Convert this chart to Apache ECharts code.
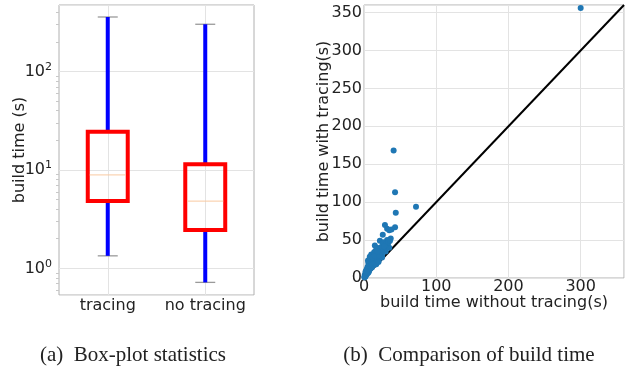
<!DOCTYPE html>
<html>
<head>
<meta charset="utf-8">
<script src="https://cdn.jsdelivr.net/npm/echarts@6/dist/echarts.min.js"></script>
<style>
  html, body { margin: 0; padding: 0; background: #fff; }
  #chart { width: 629px; height: 372px; }
</style>
</head>
<body>
<div id="chart"></div>
<script>
// box-plot data (log scale, seconds)
var categories = ['tracing', 'no tracing'];
var whiskerLow = [1.34, 0.72];
var q1 = [4.84, 2.45];
var median = [8.9, 4.82];
var q3 = [24.5, 11.4];
var whiskerHigh = [358, 302];

// scatter: [without tracing, with tracing]
var buildTimes = [
  [300, 356], [41, 168], [43, 113], [44, 86], [72, 94], [43, 67], [29, 70], [32, 65],
  [35, 63], [38, 64], [26, 57], [37, 52], [32, 50], [22, 49], [26, 46], [33, 45],
  [15, 43], [28, 39], [22, 39], [30, 35], [35, 40], [20, 33], [17, 30], [12, 30],
  [10, 31], [8, 28], [14, 26], [18, 25], [25, 30], [11, 24], [9, 22], [6, 20],
  [13, 20], [16, 22], [20, 22], [7, 17], [5, 15], [10, 15], [12, 18], [4, 12],
  [8, 12], [3, 10], [6, 10], [2, 8], [5, 8], [3, 6], [1, 4], [2, 3], [1, 2],
  [4, 5], [7, 9], [9, 13], [11, 14], [14, 17], [16, 19], [19, 27], [23, 28],
  [24, 36], [27, 47], [30, 44], [21, 26], [25, 27], [13, 23], [17, 18], [20, 21],
  [6, 7], [3, 4], [1, 1], [2, 2], [0.5, 1], [4, 7], [8, 18], [10, 20], [5, 12],
  [3, 9], [5.5, 23], [9, 25], [14, 34], [16, 36], [18, 40], [12, 27], [15, 29],
  [21, 30], [24, 41], [28, 42], [34, 47], [36, 49], [19, 35]
];
var diagonal = [[0, 0], [360, 360]];

var axisFont = 'DejaVu Sans';
var textColor = '#222';

function logLabel(v) {
  var e = Math.log10(v);
  if (Math.abs(e - Math.round(e)) > 1e-6) return '';
  return '{b|10}{s|' + Math.round(e) + '}';
}

var chart = echarts.init(document.getElementById('chart'));
var option = {
  animation: false,
  backgroundColor: '#fff',
  grid: [
    { left: 59, top: 5, right: 375, bottom: 77, show: true, borderColor: '#b0b0b0', borderWidth: 1 },
    { left: 364, top: 5, right: 5, bottom: 94, show: true, borderColor: '#b0b0b0', borderWidth: 1 }
  ],
  xAxis: [
    {
      gridIndex: 0,
      type: 'category',
      data: categories,
      boundaryGap: true,
      axisLine: { show: false },
      axisTick: { show: false, alignWithLabel: true },
      splitLine: { show: true, interval: 0, alignWithLabel: true, lineStyle: { color: '#e3e3e3' } },
      axisLabel: { interval: 0, margin: 3, fontFamily: axisFont, fontSize: 16, color: textColor }
    },
    {
      gridIndex: 1,
      type: 'value',
      min: 0,
      max: 360,
      interval: 100,
      name: 'build time without tracing(s)',
      nameLocation: 'middle',
      nameGap: 17,
      nameMoveOverlap: false,
      nameTextStyle: { fontFamily: axisFont, fontSize: 16, color: textColor },
      axisLine: { show: false },
      axisTick: { show: false },
      splitLine: { lineStyle: { color: '#e3e3e3' } },
      axisLabel: {
        margin: 1, fontFamily: axisFont, fontSize: 16, color: textColor,
        formatter: function (v) { return v % 100 === 0 ? String(v) : ''; }
      }
    }
  ],
  yAxis: [
    {
      gridIndex: 0,
      type: 'log',
      logBase: 10,
      min: 0.536,
      max: 474,
      name: 'build time (s)',
      nameLocation: 'middle',
      nameGap: 31,
      nameMoveOverlap: false,
      nameTextStyle: { fontFamily: axisFont, fontSize: 16, color: textColor },
      axisLine: { show: false },
      axisTick: { show: false },
      minorTick: { show: true, splitNumber: 9, length: 3, lineStyle: { color: '#c8c8c8' } },
      splitLine: { lineStyle: { color: '#e3e3e3' } },
      axisLabel: {
        margin: 7,
        formatter: logLabel,
        rich: {
          b: { fontFamily: axisFont, fontSize: 16, color: textColor },
          s: { fontFamily: axisFont, fontSize: 11, color: textColor, verticalAlign: 'top', padding: [0, 0, 9, 0] }
        }
      }
    },
    {
      gridIndex: 1,
      type: 'value',
      min: 0,
      max: 360,
      interval: 50,
      name: 'build time with tracing(s)',
      nameLocation: 'middle',
      nameGap: 32,
      nameMoveOverlap: false,
      nameTextStyle: { fontFamily: axisFont, fontSize: 16, color: textColor },
      axisLine: { show: false },
      axisTick: { show: false },
      splitLine: { lineStyle: { color: '#e3e3e3' } },
      axisLabel: {
        margin: 2, fontFamily: axisFont, fontSize: 16, color: textColor,
        formatter: function (v) { return v % 50 === 0 ? String(v) : ''; }
      }
    }
  ],
  series: [
    {
      // box plot drawn on the log axis
      type: 'custom',
      xAxisIndex: 0,
      yAxisIndex: 0,
      data: categories.map(function (c, i) { return [i, whiskerLow[i], q1[i], median[i], q3[i], whiskerHigh[i]]; }),
      encode: { x: 0, y: [1, 2, 3, 4, 5] },
      renderItem: function (params, api) {
        var i = api.value(0);
        var bandW = api.size([1, 0])[0];
        var boxW = bandW * 0.41;
        var capW = boxW * 0.5;
        var pLow = api.coord([i, api.value(1)]);
        var pQ1 = api.coord([i, api.value(2)]);
        var pMed = api.coord([i, api.value(3)]);
        var pQ3 = api.coord([i, api.value(4)]);
        var pHigh = api.coord([i, api.value(5)]);
        var cx = pQ1[0];
        return {
          type: 'group',
          children: [
            { type: 'line', shape: { x1: cx - capW / 2, y1: pLow[1], x2: cx + capW / 2, y2: pLow[1] }, style: { stroke: '#9a9a9a', lineWidth: 1.3 } },
            { type: 'line', shape: { x1: cx - capW / 2, y1: pHigh[1], x2: cx + capW / 2, y2: pHigh[1] }, style: { stroke: '#9a9a9a', lineWidth: 1.3 } },
            { type: 'line', shape: { x1: cx, y1: pLow[1], x2: cx, y2: pQ1[1] }, style: { stroke: '#0000ff', lineWidth: 4 } },
            { type: 'line', shape: { x1: cx, y1: pQ3[1], x2: cx, y2: pHigh[1] }, style: { stroke: '#0000ff', lineWidth: 4 } },
            { type: 'rect', shape: { x: cx - boxW / 2, y: pQ3[1], width: boxW, height: pQ1[1] - pQ3[1] }, style: { fill: 'none', stroke: '#ff0000', lineWidth: 4 } },
            { type: 'line', shape: { x1: cx - boxW / 2 + 2, y1: pMed[1], x2: cx + boxW / 2 - 2, y2: pMed[1] }, style: { stroke: '#f9c9a0', lineWidth: 1 } }
          ]
        };
      }
    },
    {
      type: 'line',
      xAxisIndex: 1,
      yAxisIndex: 1,
      data: diagonal,
      symbol: 'none',
      lineStyle: { color: '#000', width: 2 },
      z: 3
    },
    {
      type: 'scatter',
      xAxisIndex: 1,
      yAxisIndex: 1,
      data: buildTimes,
      symbolSize: 6,
      itemStyle: { color: '#1f77b4', opacity: 1 },
      z: 4
    }
  ],
  graphic: [
    {
      type: 'text', x: 133, y: 355,
      style: { text: '(a)  Box-plot statistics', font: '21px "Liberation Serif"', fill: textColor, textAlign: 'center', textVerticalAlign: 'middle' }
    },
    {
      type: 'text', x: 469, y: 355,
      style: { text: '(b)  Comparison of build time', font: '21px "Liberation Serif"', fill: textColor, textAlign: 'center', textVerticalAlign: 'middle' }
    }
  ]
};
chart.setOption(option);
</script>
</body>
</html>
